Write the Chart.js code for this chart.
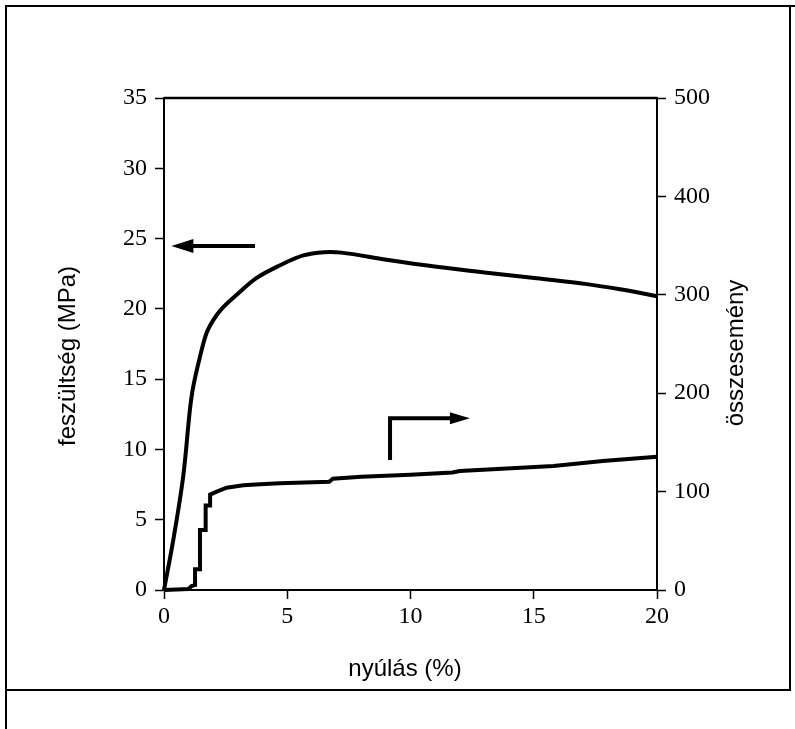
<!DOCTYPE html>
<html>
<head>
<meta charset="utf-8">
<script src="https://cdn.jsdelivr.net/npm/chart.js@4/dist/chart.umd.min.js"></script>
<style>
    html, body { margin: 0; padding: 0; background: #fff; }
    canvas { display: block; }
</style>
</head>
<body>
<canvas id="chart" width="795" height="729"></canvas>
<script>
// Stress curve (left axis, MPa)
const stressX = [0, 0.38, 0.78, 1.05, 1.19, 1.46, 1.73, 2.0, 2.34, 2.95, 3.76, 4.71, 5.65, 6.5, 7.2, 9.03, 11.06, 13.09, 15.12, 17.15, 18.5, 20];
const stressY = [0, 3.6, 8.1, 12.8, 14.5, 16.6, 18.3, 19.2, 20.0, 21.0, 22.2, 23.1, 23.8, 24.03, 24.0, 23.5, 23.0, 22.57, 22.17, 21.76, 21.39, 20.9];

// Cumulative event count (right axis)
const countX = [0, 0.99, 1.12, 1.26, 1.26, 1.46, 1.46, 1.69, 1.69, 1.87, 1.87, 2.14, 2.54, 3.22, 3.9, 4.7, 6.7, 6.85, 8, 10, 11.7, 12, 15.8, 17.8, 20];
const countY = [0, 1, 4, 5, 21, 21, 61, 61, 86, 86, 97, 100, 104, 106.5, 107.5, 108.4, 110, 113, 115, 117, 119.5, 121, 126, 131, 135.5];

// Tick values
const xTicks = [0, 5, 10, 15, 20];
const leftTicks = [0, 5, 10, 15, 20, 25, 30, 35];
const rightTicks = [0, 100, 200, 300, 400, 500];

// Labels
const xTitle = 'nyúlás (%)';
const leftTitle = 'feszültség (MPa)';
const rightTitle = 'összesemény';

// Arrow annotations in data units
const stressArrow = { from: 3.69, to: 0.3, y: 24.47 };
const countArrow = { x: 9.17, yFrom: 132, yTo: 174.5, xTo: 12.41 };

const tickFont = { family: '"Liberation Serif", "Times New Roman", serif', size: 24 };
const titleFont = '24px "Liberation Sans", Arial, sans-serif';

function axisStyle(extra) {
    return Object.assign({
        grid: { drawOnChartArea: false, drawTicks: true, tickLength: 9, tickWidth: 1.5, tickColor: '#000' },
        border: { display: true, color: '#000', width: 2 },
        ticks: { font: tickFont, color: '#000', padding: 8 }
    }, extra);
}

function arrowHead(ctx, tipX, tipY, dir, len, half) {
    ctx.beginPath();
    ctx.moveTo(tipX, tipY);
    ctx.lineTo(tipX - dir * len, tipY - half);
    ctx.lineTo(tipX - dir * len, tipY + half);
    ctx.closePath();
    ctx.fill();
}

const extras = {
    id: 'extras',
    afterDraw(chart) {
        const ctx = chart.ctx;
        const area = chart.chartArea;
        const sx = chart.scales.x, sy = chart.scales.y, sy2 = chart.scales.y2;
        ctx.save();
        ctx.strokeStyle = '#000';
        ctx.fillStyle = '#000';

        // top frame line
        ctx.lineWidth = 2.5;
        ctx.beginPath();
        ctx.moveTo(area.left, area.top);
        ctx.lineTo(area.right, area.top);
        ctx.stroke();

        // outer border
        ctx.lineWidth = 2;
        ctx.beginPath();
        ctx.moveTo(6, 729);
        ctx.lineTo(6, 6);
        ctx.lineTo(795, 6);
        ctx.stroke();
        ctx.beginPath();
        ctx.moveTo(6, 690);
        ctx.lineTo(790, 690);
        ctx.lineTo(790, 6);
        ctx.stroke();

        // stress arrow (pointing left)
        const ay = sy.getPixelForValue(stressArrow.y);
        const tail = sx.getPixelForValue(stressArrow.from);
        const tip = sx.getPixelForValue(stressArrow.to);
        ctx.lineWidth = 4;
        ctx.beginPath();
        ctx.moveTo(tail, ay);
        ctx.lineTo(tip + 15, ay);
        ctx.stroke();
        arrowHead(ctx, tip, ay, -1, 22, 7);

        // count arrow (bent, pointing right)
        const cx = sx.getPixelForValue(countArrow.x);
        const cy0 = sy2.getPixelForValue(countArrow.yFrom);
        const cy1 = sy2.getPixelForValue(countArrow.yTo);
        const ctip = sx.getPixelForValue(countArrow.xTo);
        ctx.lineWidth = 4;
        ctx.lineJoin = 'miter';
        ctx.beginPath();
        ctx.moveTo(cx, cy0);
        ctx.lineTo(cx, cy1);
        ctx.lineTo(ctip - 15, cy1);
        ctx.stroke();
        arrowHead(ctx, ctip, cy1, 1, 20, 6);

        // axis titles
        ctx.font = titleFont;
        ctx.textAlign = 'center';
        ctx.textBaseline = 'middle';
        ctx.fillText(xTitle, 405, 669);
        ctx.save();
        ctx.translate(68, 356);
        ctx.rotate(-Math.PI / 2);
        ctx.fillText(leftTitle, 0, 0);
        ctx.restore();
        ctx.save();
        ctx.translate(736, 353);
        ctx.rotate(-Math.PI / 2);
        ctx.fillText(rightTitle, 0, 0);
        ctx.restore();

        ctx.restore();
    }
};

new Chart(document.getElementById('chart'), {
    type: 'line',
    data: {
        datasets: [{
            label: leftTitle,
            data: stressX.map((x, i) => ({ x: x, y: stressY[i] })),
            yAxisID: 'y',
            borderColor: '#000',
            borderWidth: 4,
            pointRadius: 0,
            tension: 0.35,
            fill: false,
            clip: false
        }, {
            label: rightTitle,
            data: countX.map((x, i) => ({ x: x, y: countY[i] })),
            yAxisID: 'y2',
            borderColor: '#000',
            borderWidth: 4,
            pointRadius: 0,
            tension: 0,
            fill: false,
            clip: false
        }]
    },
    options: {
        responsive: false,
        animation: false,
        devicePixelRatio: 1,
        layout: { padding: { top: 98, left: 0, right: 0, bottom: 0 } },
        plugins: { legend: { display: false }, tooltip: { enabled: false } },
        scales: {
            x: axisStyle({
                type: 'linear', min: 0, max: 20,
                afterBuildTicks: s => { s.ticks = xTicks.map(v => ({ value: v })); },
                afterFit: s => { s.height = 139; },
                ticks: { font: tickFont, color: '#000', padding: 3, maxRotation: 0 }
            }),
            y: axisStyle({
                type: 'linear', position: 'left', min: 0, max: 35,
                afterBuildTicks: s => { s.ticks = leftTicks.map(v => ({ value: v })); },
                afterFit: s => { s.width = 164; }
            }),
            y2: axisStyle({
                type: 'linear', position: 'right', min: 0, max: 500,
                afterBuildTicks: s => { s.ticks = rightTicks.map(v => ({ value: v })); },
                afterFit: s => { s.width = 138; }
            })
        }
    },
    plugins: [extras]
});
</script>
</body>
</html>
